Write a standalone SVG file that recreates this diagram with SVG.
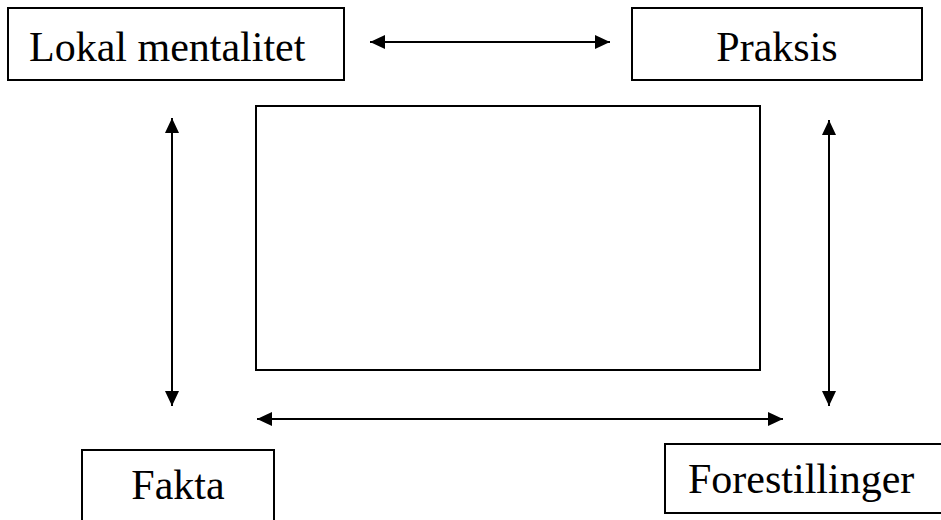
<svg xmlns="http://www.w3.org/2000/svg" width="941" height="520" viewBox="0 0 941 520">
<defs>
<marker id="ah" viewBox="0 0 15 14" refX="15" refY="7" markerWidth="15" markerHeight="14" markerUnits="userSpaceOnUse" orient="auto-start-reverse">
<path d="M0,0 L15,7 L0,14 Z" fill="#000"/>
</marker>
</defs>
<style>
.box{fill:#fff;stroke:#000;stroke-width:2}
.lbl{font-family:'Liberation Serif','Times New Roman',serif;font-size:42px;fill:#000}
.con{stroke:#000;stroke-width:2;fill:none;marker-start:url(#ah);marker-end:url(#ah)}
</style>
<rect width="941" height="520" fill="#fff"/>
<g id="center">
<rect class="box" x="256" y="106" width="504" height="264"/>
</g>
<g id="lokal">
<rect class="box" x="8" y="8" width="336" height="72"/>
<text class="lbl" x="29" y="61">Lokal mentalitet</text>
</g>
<g id="praksis">
<rect class="box" x="632" y="8" width="290" height="72"/>
<text class="lbl" x="777" y="61" text-anchor="middle">Praksis</text>
</g>
<g id="fakta">
<rect class="box" x="82" y="450" width="192" height="80"/>
<text class="lbl" x="178" y="499" text-anchor="middle">Fakta</text>
</g>
<g id="forestillinger">
<rect class="box" x="665" y="444" width="290" height="69"/>
<text class="lbl" x="688" y="493">Forestillinger</text>
</g>
<g id="connectors">
<line class="con" x1="370" y1="42" x2="610" y2="42"/>
<line class="con" x1="172" y1="118" x2="172" y2="406"/>
<line class="con" x1="829" y1="120" x2="829" y2="406"/>
<line class="con" x1="257" y1="419" x2="783" y2="419"/>
</g>
</svg>
